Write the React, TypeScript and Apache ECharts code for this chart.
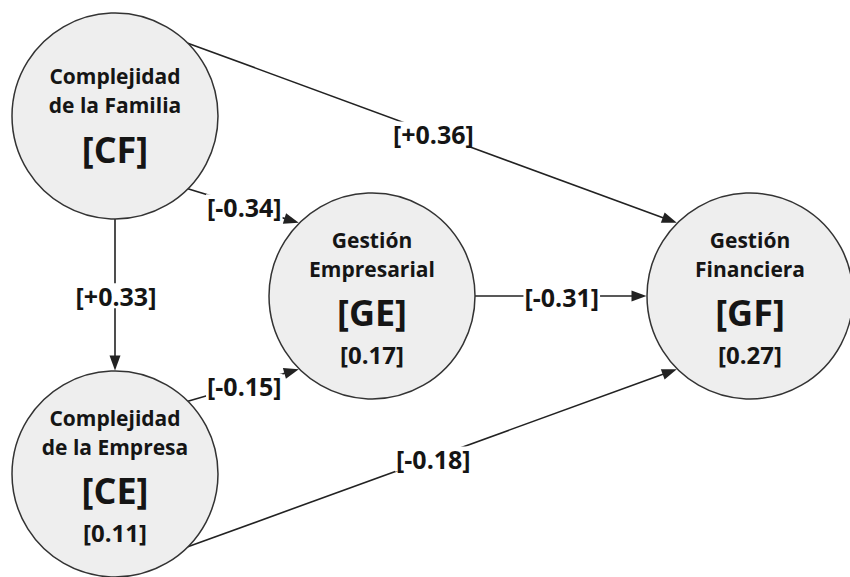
import React, { useEffect, useRef } from "react";
import * as echarts from "echarts";

// ---- data ----
const nodeCodes = ["CF", "CE", "GE", "GF"];
const nodeTitles = [
  ["Complejidad", "de la Familia"],
  ["Complejidad", "de la Empresa"],
  ["Gestión", "Empresarial"],
  ["Gestión", "Financiera"],
];
const nodeR2: (number | null)[] = [null, 0.11, 0.17, 0.27];

const pathFrom = ["CF", "CF", "CF", "CE", "CE", "GE"];
const pathTo = ["GF", "GE", "CE", "GE", "GF", "GF"];
const pathCoef = [0.36, -0.34, 0.33, -0.15, -0.18, -0.31];

// ---- layout ----
const W = 850;
const H = 577;
const NODE_POS: Record<string, [number, number]> = {
  CF: [115, 116],
  CE: [115, 474],
  GE: [372, 296],
  GF: [750, 296],
};
const R = 103;
const PORT_FROM = [-45, 45, 90, -45, 45, 0];
const PORT_TO = [-135, -135, -90, 135, 135, 180];
const ARROW_W = 11;
const ARROW_L = 15;
const FONT = "'Open Sans', 'Noto Sans', sans-serif";
const INK = "#151515";

function port(code: string, deg: number, extra = 0): [number, number] {
  const [cx, cy] = NODE_POS[code];
  const a = (deg * Math.PI) / 180;
  return [cx + (R + extra) * Math.cos(a), cy + (R + extra) * Math.sin(a)];
}

function fmtCoef(v: number) {
  return `[${v > 0 ? "+" : ""}${v.toFixed(2)}]`;
}

export default function App() {
  const ref = useRef<HTMLDivElement>(null);
  useEffect(() => {
    document.body.style.margin = "0";
    if (!ref.current) return;
    const chart = echarts.init(ref.current, undefined, { renderer: "svg" });

    const lineData: any[] = [];
    const labelData: any[] = [];
    pathFrom.forEach((f, i) => {
      const t = pathTo[i];
      const s = port(f, PORT_FROM[i], 0);
      const tip = port(t, PORT_TO[i], 0.5);
      const dx = tip[0] - s[0];
      const dy = tip[1] - s[1];
      const len = Math.hypot(dx, dy);
      const e: [number, number] = [tip[0] - (dx / len) * (ARROW_L / 2), tip[1] - (dy / len) * (ARROW_L / 2)];
      lineData.push({ coords: [s, e] });
      labelData.push({ value: [(s[0] + tip[0]) / 2 + 1, (s[1] + tip[1]) / 2 + 1], name: fmtCoef(pathCoef[i]) });
    });

    const nodeData = nodeCodes.map((c, i) => {
      const parts = [`{t|${nodeTitles[i][0]}}`, `{t|${nodeTitles[i][1]}}`, `{c|[${c}]}`];
      const r2 = nodeR2[i];
      if (r2 != null) parts.push(`{r|[${r2.toFixed(2)}]}`);
      return {
        value: NODE_POS[c],
        name: c,
        label: {
          formatter: parts.join("\n"),
          offset: r2 == null ? [0, 4] : [0, 0],
        },
      };
    });

    chart.setOption({
      animation: false,
      backgroundColor: "#ffffff",
      grid: { left: 0, right: 0, top: 0, bottom: 0 },
      xAxis: { type: "value", min: 0, max: W, show: false },
      yAxis: { type: "value", min: 0, max: H, inverse: true, show: false },
      series: [
        {
          type: "lines",
          coordinateSystem: "cartesian2d",
          z: 1,
          symbol: ["none", "triangle"],
          symbolSize: [0, [ARROW_W, ARROW_L]],
          lineStyle: { color: "#222222", width: 1.6, opacity: 1, curveness: 0 },
          itemStyle: { color: "#111" },
          data: lineData,
          silent: true,
        },
        {
          type: "scatter",
          z: 2,
          clip: false,
          symbol: "circle",
          symbolSize: R * 2,
          itemStyle: { color: "#eeeeee", borderColor: "#333333", borderWidth: 1.5, opacity: 1 },
          label: {
            show: true,
            position: "inside",
            color: INK,
            fontFamily: FONT,
            align: "center",
            verticalAlign: "middle",
            textBorderWidth: 0,
            rich: {
              t: { fontSize: 21, fontWeight: "bold", lineHeight: 29, color: INK, fontFamily: FONT },
              c: { fontSize: 36, fontWeight: "bold", lineHeight: 59, color: INK, fontFamily: FONT },
              r: { fontSize: 24, fontWeight: "bold", lineHeight: 25, color: INK, fontFamily: FONT },
            },
          },
          data: nodeData,
          silent: true,
        },
        {
          type: "scatter",
          z: 3,
          clip: false,
          symbolSize: 1,
          itemStyle: { color: "#ffffff", opacity: 1 },
          label: {
            show: true,
            position: "inside",
            formatter: (p: any) => p.name,
            fontSize: 25,
            fontWeight: "bold",
            fontFamily: FONT,
            color: INK,
            opacity: 1,
            textBorderWidth: 0,
            textBorderColor: "transparent",
            backgroundColor: "#ffffff",
            padding: [0, 1],
          },
          data: labelData,
          silent: true,
        },
      ],
    });
    return () => chart.dispose();
  }, []);
  return <div ref={ref} style={{ width: W, height: H }} />;
}
